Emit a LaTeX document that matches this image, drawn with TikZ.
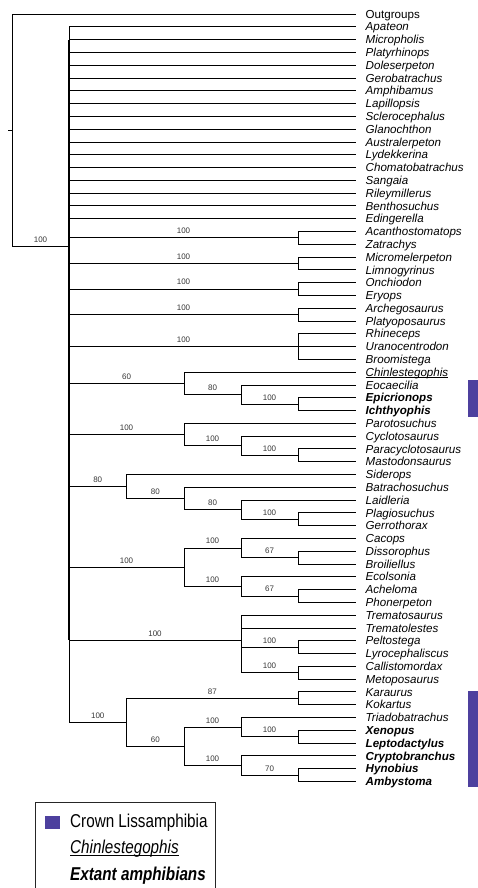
\documentclass[tikz,border=0pt]{standalone}
\usepackage{fontspec}
\setmainfont{Liberation Sans}
\usetikzlibrary{calc}
\definecolor{lisso}{RGB}{77,64,158}
\definecolor{bootc}{RGB}{55,55,55}
\tikzset{
  branch/.style={draw=black, line width=0.8pt},
  taxon/.style={anchor=base west, inner sep=0pt, font=\fontsize{11.6}{12}\selectfont\itshape},
  boot/.style={anchor=base, inner sep=0pt, text=bootc, font=\fontsize{8}{9}\selectfont},
  legtext/.style={anchor=base west, inner sep=0pt, font=\fontsize{18.6}{20}\selectfont},
  crownbar/.style={fill=lisso, draw=none},
}
\newcommand\leaf[3]{%
  \coordinate (#1) at (356,{14+12.79*(#2-1)});
  \node[taxon] (t#1) at ([xshift=9.5pt,yshift=-4.2pt]#1) {#3};}
\newcommand\bnode[4]{%
  \path ($(#3)!.5!(#4)$) coordinate (#1m);
  \coordinate (#1) at (#2 |- #1m);}
\newcommand\boot[3]{\node[boot,yshift=4pt] (b#2) at ($(#1 |- #2)!.5!(#2)$) {#3};}
\newcommand\br[2]{\draw[branch] (#1) |- (#2);}
\begin{document}
\begin{tikzpicture}[x=1pt,y=-1pt]
\useasboundingbox (0,0) rectangle (478,888);
% levels
\coordinate (L0) at (12,0);
\coordinate (L1) at (69,0);
\coordinate (L2) at (126.5,0);
\coordinate (L3) at (184,0);
\coordinate (L4) at (241,0);
\coordinate (L5) at (298,0);
% leaves
\leaf{out}{1}{\upshape Outgroups}
\leaf{apat}{2}{Apateon}
\leaf{micp}{3}{Micropholis}
\leaf{plty}{4}{Platyrhinops}
\leaf{dole}{5}{Doleserpeton}
\leaf{gero}{6}{Gerobatrachus}
\leaf{amph}{7}{Amphibamus}
\leaf{lapi}{8}{Lapillopsis}
\leaf{scle}{9}{Sclerocephalus}
\leaf{glan}{10}{Glanochthon}
\leaf{aust}{11}{Australerpeton}
\leaf{lyde}{12}{Lydekkerina}
\leaf{choma}{13}{Chomatobatrachus}
\leaf{sang}{14}{Sangaia}
\leaf{rile}{15}{Rileymillerus}
\leaf{bent}{16}{Benthosuchus}
\leaf{edin}{17}{Edingerella}
\leaf{acan}{18}{Acanthostomatops}
\leaf{zatr}{19}{Zatrachys}
\leaf{mice}{20}{Micromelerpeton}
\leaf{limn}{21}{Limnogyrinus}
\leaf{onch}{22}{Onchiodon}
\leaf{eryo}{23}{Eryops}
\leaf{arch}{24}{Archegosaurus}
\leaf{plat}{25}{Platyoposaurus}
\leaf{rhin}{26}{Rhineceps}
\leaf{uran}{27}{Uranocentrodon}
\leaf{broo}{28}{Broomistega}
\leaf{chin}{29}{Chinlestegophis}
\leaf{eoca}{30}{Eocaecilia}
\leaf{epic}{31}{\bfseries Epicrionops}
\leaf{icht}{32}{\bfseries Ichthyophis}
\leaf{paro}{33}{Parotosuchus}
\leaf{cycl}{34}{Cyclotosaurus}
\leaf{para}{35}{Paracyclotosaurus}
\leaf{mast}{36}{Mastodonsaurus}
\leaf{side}{37}{Siderops}
\leaf{batr}{38}{Batrachosuchus}
\leaf{laid}{39}{Laidleria}
\leaf{plag}{40}{Plagiosuchus}
\leaf{gerr}{41}{Gerrothorax}
\leaf{caco}{42}{Cacops}
\leaf{diss}{43}{Dissorophus}
\leaf{broi}{44}{Broiliellus}
\leaf{ecol}{45}{Ecolsonia}
\leaf{ache}{46}{Acheloma}
\leaf{phon}{47}{Phonerpeton}
\leaf{trem}{48}{Trematosaurus}
\leaf{trel}{49}{Trematolestes}
\leaf{pelt}{50}{Peltostega}
\leaf{lyro}{51}{Lyrocephaliscus}
\leaf{call}{52}{Callistomordax}
\leaf{meto}{53}{Metoposaurus}
\leaf{kara}{54}{Karaurus}
\leaf{koka}{55}{Kokartus}
\leaf{tria}{56}{Triadobatrachus}
\leaf{xeno}{57}{\bfseries Xenopus}
\leaf{lept}{58}{\bfseries Leptodactylus}
\leaf{cryp}{59}{\bfseries Cryptobranchus}
\leaf{hyno}{60}{\bfseries Hynobius}
\leaf{amby}{61}{\bfseries Ambystoma}
\draw[line width=0.7pt] ([yshift=-1.4pt]tchin.base west) -- ([yshift=-1.4pt]tchin.base east);
% internal nodes
\coordinate (R) at (12,130.13);
\coordinate (Rs) at (8,130.13);
\coordinate (N0) at (69,246.26);
\bnode{A}{L5}{acan}{zatr}
\bnode{B}{L5}{mice}{limn}
\bnode{C}{L5}{onch}{eryo}
\bnode{D}{L5}{arch}{plat}
\coordinate (E) at (L5 |- uran);
\bnode{F3}{L5}{epic}{icht}
\bnode{F2}{L4}{eoca}{F3}
\bnode{F}{L3}{chin}{F2}
\bnode{G3}{L5}{para}{mast}
\bnode{G2}{L4}{cycl}{G3}
\bnode{G}{L3}{paro}{G2}
\bnode{H4}{L5}{plag}{gerr}
\bnode{H3}{L4}{laid}{H4}
\bnode{H2}{L3}{batr}{H3}
\bnode{H}{L2}{side}{H2}
\bnode{IAb}{L5}{diss}{broi}
\bnode{IA}{L4}{caco}{IAb}
\bnode{IBb}{L5}{ache}{phon}
\bnode{IB}{L4}{ecol}{IBb}
\bnode{I}{L3}{IA}{IB}
\bnode{J1}{L5}{pelt}{lyro}
\bnode{J2}{L5}{call}{meto}
\coordinate (J) at (241,640.71);
\bnode{K1}{L5}{kara}{koka}
\bnode{K2b}{L5}{xeno}{lept}
\bnode{K2}{L4}{tria}{K2b}
\bnode{K3b}{L5}{hyno}{amby}
\bnode{K3}{L4}{cryp}{K3b}
\bnode{K4}{L3}{K2}{K3}
\bnode{K}{L2}{K1}{K4}
% root
\draw[branch] (Rs) -- (R);
\br{R}{out}
\br{R}{N0}
\boot{R}{N0}{100}
% main polytomy
\foreach \c in {apat,micp,plty,dole,gero,amph,lapi,scle,glan,aust,lyde,choma,sang,rile,bent,edin,A,B,C,D,E,F,G,H,I,J,K}
  {\br{N0}{\c}}
\coordinate (thA) at (69,40);
\coordinate (thB) at (69,640);
\draw[line width=1.5pt] (thA) -- (thB);
% clades
\br{A}{acan}\br{A}{zatr}\boot{N0}{A}{100}
\br{B}{mice}\br{B}{limn}\boot{N0}{B}{100}
\br{C}{onch}\br{C}{eryo}\boot{N0}{C}{100}
\br{D}{arch}\br{D}{plat}\boot{N0}{D}{100}
\br{E}{rhin}\br{E}{uran}\br{E}{broo}\boot{N0}{E}{100}
\br{F}{chin}\br{F}{F2}\br{F2}{eoca}\br{F2}{F3}\br{F3}{epic}\br{F3}{icht}
\boot{N0}{F}{60}\boot{F}{F2}{80}\boot{F2}{F3}{100}
\br{G}{paro}\br{G}{G2}\br{G2}{cycl}\br{G2}{G3}\br{G3}{para}\br{G3}{mast}
\boot{N0}{G}{100}\boot{G}{G2}{100}\boot{G2}{G3}{100}
\br{H}{side}\br{H}{H2}\br{H2}{batr}\br{H2}{H3}\br{H3}{laid}\br{H3}{H4}\br{H4}{plag}\br{H4}{gerr}
\boot{N0}{H}{80}\boot{H}{H2}{80}\boot{H2}{H3}{80}\boot{H3}{H4}{100}
\br{I}{IA}\br{I}{IB}\br{IA}{caco}\br{IA}{IAb}\br{IAb}{diss}\br{IAb}{broi}
\br{IB}{ecol}\br{IB}{IBb}\br{IBb}{ache}\br{IBb}{phon}
\boot{N0}{I}{100}\boot{I}{IA}{100}\boot{IA}{IAb}{67}\boot{I}{IB}{100}\boot{IB}{IBb}{67}
\br{J}{trem}\br{J}{trel}\br{J}{J1}\br{J}{J2}\br{J1}{pelt}\br{J1}{lyro}\br{J2}{call}\br{J2}{meto}
\boot{N0}{J}{100}\boot{J}{J1}{100}\boot{J}{J2}{100}
\br{K}{K1}\br{K}{K4}\br{K1}{kara}\br{K1}{koka}
\br{K4}{K2}\br{K4}{K3}\br{K2}{tria}\br{K2}{K2b}\br{K2b}{xeno}\br{K2b}{lept}
\br{K3}{cryp}\br{K3}{K3b}\br{K3b}{hyno}\br{K3b}{amby}
\boot{N0}{K}{100}\boot{K}{K1}{87}\boot{K}{K4}{60}\boot{K4}{K2}{100}\boot{K2}{K2b}{100}
\boot{K4}{K3}{100}\boot{K3}{K3b}{70}
% crown bars
\path[crownbar] (467.7,380) rectangle (478,416.7);
\path[crownbar] (467.7,690.7) rectangle (478,787);
% legend
\draw[line width=0.8pt, draw=black!85] (35.7,802.3) rectangle (215,900);
\path[crownbar] (44.5,815.5) rectangle (59.5,829);
\node[legtext] (lg1) at (70,827.3) {\scalebox{0.82}[1]{Crown Lissamphibia}};
\node[legtext] (lg2) at (70,853.3) {\scalebox{0.82}[1]{\itshape Chinlestegophis}};
\draw[line width=0.8pt] ([yshift=-2pt]lg2.base west) -- ([yshift=-2pt]lg2.base east);
\node[legtext] (lg3) at (70,880) {\scalebox{0.82}[1]{\bfseries\itshape Extant amphibians}};
\end{tikzpicture}
\end{document}
